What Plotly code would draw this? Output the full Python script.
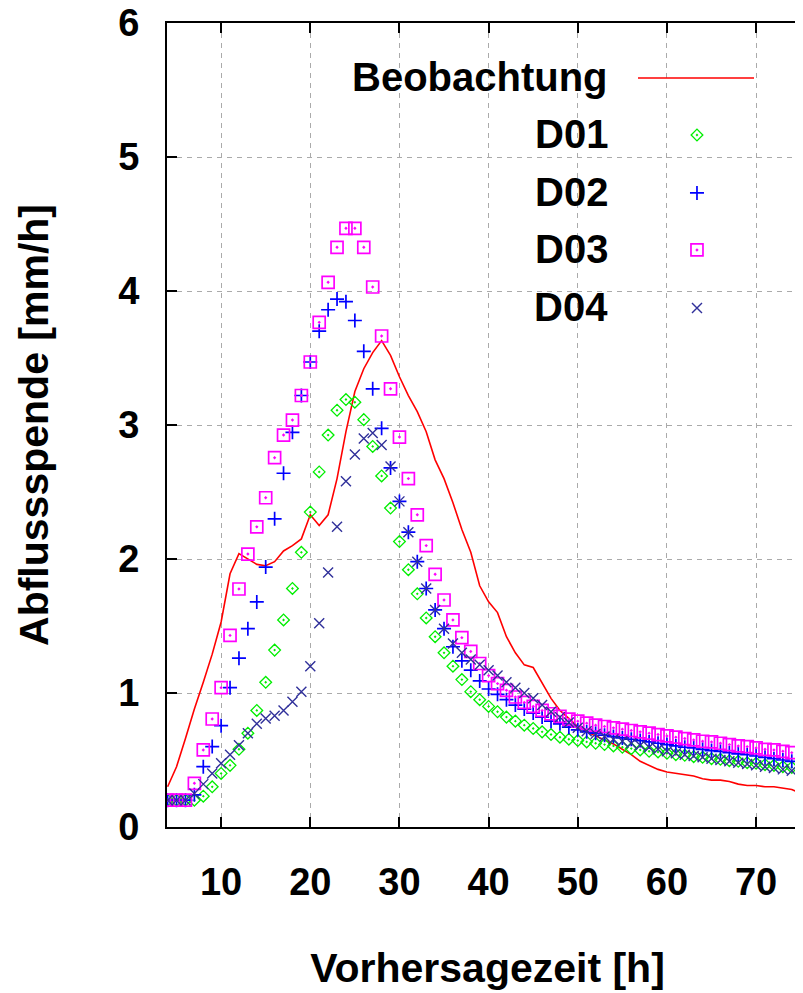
import plotly.graph_objects as go

# ---------------- data ----------------
obs_x = list(range(4, 77))
obs_y = [0.30, 0.45, 0.66, 0.88, 1.08, 1.29, 1.53, 1.89, 2.04, 2.00,
         1.96, 1.95, 1.98, 2.06, 2.10, 2.15, 2.33, 2.25, 2.33, 2.60,
         2.95, 3.25, 3.42, 3.54, 3.63, 3.52, 3.36, 3.22, 3.10, 2.95,
         2.74, 2.60, 2.42, 2.22, 2.05, 1.80, 1.68, 1.60, 1.42, 1.30,
         1.21, 1.19, 1.08, 0.96, 0.87, 0.81, 0.75, 0.71, 0.68, 0.65,
         0.62, 0.58, 0.54, 0.49, 0.46, 0.43, 0.41, 0.40, 0.39, 0.38,
         0.36, 0.35, 0.35, 0.34, 0.32, 0.31, 0.31, 0.30, 0.30, 0.29,
         0.28, 0.25, 0.23]

sim_x = list(range(4, 75))
d01 = [0.20, 0.20, 0.20, 0.20, 0.23, 0.30, 0.40, 0.46, 0.58, 0.70,
       0.87, 1.08, 1.32, 1.545, 1.78, 2.05, 2.35, 2.65, 2.925, 3.11,
       3.19, 3.17, 3.04, 2.84, 2.62, 2.38, 2.13, 1.92, 1.74, 1.56,
       1.42, 1.30, 1.20, 1.10, 1.01, 0.95, 0.90, 0.86, 0.82, 0.79,
       0.76, 0.735, 0.71, 0.69, 0.67, 0.655, 0.645, 0.635, 0.625, 0.615,
       0.605, 0.595, 0.585, 0.575, 0.565, 0.56, 0.55, 0.54, 0.535, 0.525,
       0.52, 0.51, 0.505, 0.495, 0.49, 0.48, 0.475, 0.465, 0.46, 0.45,
       0.445]
d02 = [0.20, 0.20, 0.20, 0.24, 0.45, 0.60, 0.756, 1.04, 1.26, 1.48,
       1.68, 1.94, 2.30, 2.64, 2.945, 3.22, 3.47, 3.70, 3.86, 3.94,
       3.92, 3.78, 3.55, 3.27, 2.975, 2.68, 2.43, 2.20, 1.98, 1.78,
       1.62, 1.48, 1.345, 1.24, 1.17, 1.09, 1.03, 0.99, 0.95, 0.91,
       0.88, 0.85, 0.82, 0.79, 0.77, 0.745, 0.725, 0.71, 0.70, 0.685,
       0.675, 0.665, 0.655, 0.645, 0.635, 0.625, 0.615, 0.605, 0.595, 0.59,
       0.58, 0.57, 0.565, 0.555, 0.545, 0.54, 0.53, 0.52, 0.51, 0.50,
       0.49]
d03 = [0.20, 0.20, 0.20, 0.326, 0.575, 0.806, 1.04, 1.43, 1.776, 2.037,
       2.24, 2.457, 2.756, 2.925, 3.037, 3.22, 3.47, 3.766, 4.065, 4.326,
       4.468, 4.468, 4.326, 4.03, 3.664, 3.27, 2.91, 2.60, 2.33, 2.10,
       1.886, 1.694, 1.545, 1.413, 1.31, 1.22, 1.13, 1.07, 1.02, 0.97,
       0.93, 0.90, 0.87, 0.845, 0.825, 0.805, 0.79, 0.775, 0.76, 0.75,
       0.74, 0.73, 0.72, 0.71, 0.70, 0.69, 0.68, 0.67, 0.66, 0.65,
       0.64, 0.635, 0.625, 0.615, 0.605, 0.60, 0.59, 0.58, 0.575, 0.565,
       0.555]
d04 = [0.20, 0.20, 0.20, 0.25, 0.32, 0.40, 0.475, 0.54, 0.61, 0.70,
       0.77, 0.81, 0.83, 0.87, 0.935, 1.01, 1.20, 1.52, 1.90, 2.24,
       2.58, 2.78, 2.90, 2.94, 2.85, 2.69, 2.43, 2.20, 1.98, 1.78,
       1.62, 1.48, 1.37, 1.30, 1.25, 1.21, 1.17, 1.13, 1.08, 1.04,
       1.00, 0.96, 0.91, 0.86, 0.82, 0.78, 0.74, 0.715, 0.695, 0.675,
       0.655, 0.64, 0.625, 0.61, 0.595, 0.58, 0.565, 0.55, 0.54, 0.53,
       0.52, 0.51, 0.50, 0.49, 0.48, 0.47, 0.46, 0.45, 0.44, 0.43,
       0.42]

series_names = ["Beobachtung", "D01", "D02", "D03", "D04"]
x_ticks = [10, 20, 30, 40, 50, 60, 70]
y_ticks = [0, 1, 2, 3, 4, 5, 6]
x_title = "Vorhersagezeit [h]"
y_title = "Abflussspende [mm/h]"

# ---------------- styles ----------------
RED = "#ff0000"
GREEN = "#00ee00"
BLUE = "#0000ff"
MAGENTA = "#ff00ff"
NAVY = "#30309a"
FONT = "Liberation Sans"

marker_styles = {
    "D01": dict(symbol="diamond-open-dot", size=9, color=GREEN, line=dict(color=GREEN, width=1.3)),
    "D02": dict(symbol="cross-thin", size=10, color=BLUE, line=dict(color=BLUE, width=1.7)),
    "D03": dict(symbol="square-open-dot", size=12, color=MAGENTA, line=dict(color=MAGENTA, width=1.7)),
    "D04": dict(symbol="x-thin", size=10, color=NAVY, line=dict(color=NAVY, width=1.4)),
}

fig = go.Figure()

fig.add_trace(go.Scatter(x=obs_x, y=obs_y, mode="lines", name="Beobachtung",
                         line=dict(color=RED, width=1.6), showlegend=False))
for name, vals in zip(["D01", "D02", "D03", "D04"], [d01, d02, d03, d04]):
    fig.add_trace(go.Scatter(x=sim_x, y=vals, mode="markers", name=name,
                             marker=marker_styles[name], showlegend=False))

# ---- custom legend (gnuplot style: text right-aligned, sample on the right) ----
leg_text_x = 0.6911
leg_sample_x = 0.8268
leg_line_x = [0.7348, 0.9158]
leg_rows_y = [0.9316, 0.8607, 0.7886, 0.7177, 0.6455]
fig.add_trace(go.Scatter(x=leg_line_x, y=[leg_rows_y[0]] * 2, mode="lines",
                         line=dict(color=RED, width=1.6), xaxis="x3", yaxis="y3",
                         showlegend=False, hoverinfo="skip"))
for i, name in enumerate(series_names[1:], start=1):
    fig.add_trace(go.Scatter(x=[leg_sample_x], y=[leg_rows_y[i]], mode="markers",
                             marker=marker_styles[name], xaxis="x3", yaxis="y3",
                             showlegend=False, hoverinfo="skip"))
for i, name in enumerate(series_names):
    fig.add_annotation(x=leg_text_x, y=leg_rows_y[i], xref="paper", yref="paper",
                       text=f"<b>{name}</b>", showarrow=False, xanchor="right", yanchor="middle",
                       font=dict(family=FONT, size=40, color="black"), yshift=1)

grid_common = dict(showgrid=True, gridcolor="#aaaaaa", gridwidth=1.3, griddash="5px,5px",
                   zeroline=False)
x_range = [3.93, 75.82]
y_range = [0, 6]
tick_font = dict(family=FONT, size=38, color="black", weight="bold")

fig.update_layout(
    width=803, height=993,
    margin=dict(l=159, r=3, t=15, b=174, autoexpand=False),
    paper_bgcolor="white", plot_bgcolor="white",
    font=dict(family=FONT, color="black"),
    showlegend=False,
    xaxis=dict(range=x_range, tickvals=x_ticks, ticks="inside", ticklen=10, tickwidth=2,
               tickcolor="black", showline=True, linecolor="black", linewidth=2,
               mirror=False, tickfont=tick_font, ticklabelstandoff=20, automargin=False,
               ticklabeloverflow="allow",
               title=dict(text=f"<b>{x_title}</b>", font=dict(family=FONT, size=41), standoff=52),
               **grid_common),
    yaxis=dict(range=y_range, tickvals=y_ticks, ticks="inside", ticklen=10, tickwidth=2,
               tickcolor="black", showline=True, linecolor="black", linewidth=2,
               mirror=False, tickfont=tick_font, ticklabelstandoff=18, automargin=False,
               ticklabeloverflow="allow",
               title=dict(text=f"<b>{y_title}</b>", font=dict(family=FONT, size=41), standoff=57),
               **grid_common),
    xaxis2=dict(range=x_range, tickvals=x_ticks, ticks="inside", ticklen=10, tickwidth=2,
                tickcolor="black", showline=True, linecolor="black", linewidth=2,
                showticklabels=False, showgrid=False, zeroline=False, automargin=False,
                overlaying="x", side="top", anchor="y"),
    yaxis2=dict(range=y_range, tickvals=y_ticks, ticks="inside", ticklen=10, tickwidth=2,
                tickcolor="black", showline=False, showticklabels=False, showgrid=False,
                zeroline=False, automargin=False, overlaying="y", side="right", anchor="x"),
    xaxis3=dict(range=[0, 1], visible=False, overlaying="x", anchor="y3"),
    yaxis3=dict(range=[0, 1], visible=False, overlaying="y", anchor="x3"),
)

# dummy trace so the mirror axes render
fig.add_trace(go.Scatter(x=[None], y=[None], xaxis="x2", yaxis="y2", showlegend=False))

fig.write_html("out.html")
